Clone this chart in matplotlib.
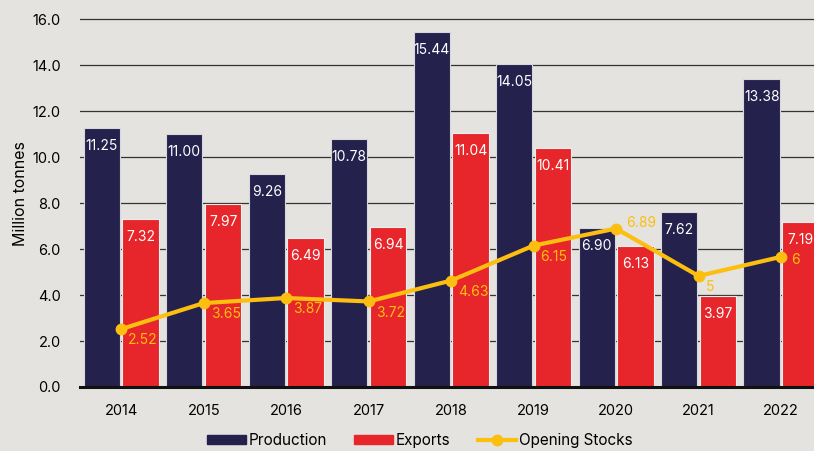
import numpy as np
import matplotlib.pyplot as plt

years = ["2014", "2015", "2016", "2017", "2018", "2019", "2020", "2021", "2022"]
production = [11.25, 11.00, 9.26, 10.78, 15.44, 14.05, 6.90, 7.62, 13.38]
exports = [7.32, 7.97, 6.49, 6.94, 11.04, 10.41, 6.13, 3.97, 7.19]
stocks = [2.52, 3.65, 3.87, 3.72, 4.63, 6.15, 6.89, 4.83, 5.66]
stock_labels = ["2.52", "3.65", "3.87", "3.72", "4.63", "6.15", "6.89", "5", "6"]

NAVY = "#24214d"
RED = "#e6262b"
YELLOW = "#fcbf0f"
BG = "#e4e3df"

plt.rcParams['font.family'] = ['Inter', 'DejaVu Sans']

fig = plt.figure(figsize=(8.14, 4.51), dpi=100, facecolor=BG)
ax = fig.add_axes([80 / 814, 64 / 451, 734 / 814, 387 / 451])
ax.set_facecolor(BG)

x = np.arange(len(years))
w = 0.44
ax.bar(x - 0.235, production, w, color=NAVY, edgecolor="#d8d7dc", linewidth=0.8, zorder=2)
ax.bar(x + 0.235, exports, w, color=RED, edgecolor="#eeeeee", linewidth=0.8, zorder=2)

for xi, v in zip(x, production):
    ax.annotate(f"{v:.2f}", (xi - 0.235, v), xytext=(0, -13), textcoords="offset points",
                ha="center", va="center", color="white", fontsize=10, zorder=4)
for xi, v in zip(x, exports):
    ax.annotate(f"{v:.2f}", (xi + 0.235, v), xytext=(0, -13), textcoords="offset points",
                ha="center", va="center", color="white", fontsize=10, zorder=4)

ax.plot(x, stocks, color=YELLOW, lw=3, marker="o", ms=7.5, zorder=5)
for i, (xi, v, lab) in enumerate(zip(x, stocks, stock_labels)):
    dx, dy = 5, -8
    if i == 6:
        dx, dy = 7, 4
    elif i == 8:
        dx, dy = 7, -2
    ax.annotate(lab, (xi, v), xytext=(dx, dy), textcoords="offset points",
                ha="left", va="center", color=YELLOW, fontsize=10, zorder=6)

ax.set_xlim(-0.5, 8.4)
ax.set_ylim(0, 16.83)
ax.set_yticks(np.arange(0, 16.1, 2))
ax.set_yticklabels([f"{t:.1f}" for t in np.arange(0, 16.1, 2)], fontsize=10.5)
ax.set_xticks(x)
ax.set_xticklabels(years, fontsize=10.5)
ax.tick_params(axis="x", length=0, pad=12)
ax.tick_params(axis="y", length=0, pad=14)
ax.grid(axis="y", color="#333333", lw=0.9, zorder=1)
for s in ["top", "right", "left"]:
    ax.spines[s].set_visible(False)
ax.spines["bottom"].set_linewidth(2.2)
ax.spines["bottom"].set_color("#111111")
ax.spines["bottom"].set_zorder(3)
ax.set_ylabel("Million tonnes", fontsize=11.5, labelpad=3)

h1 = plt.Rectangle((0, 0), 1, 1, color=NAVY)
h2 = plt.Rectangle((0, 0), 1, 1, color=RED)
h3 = plt.Line2D([], [], color=YELLOW, lw=3, marker="o", ms=7.5)
fig.legend([h1, h2, h3], ["Production", "Exports", "Opening Stocks"], loc="center",
           bbox_to_anchor=(0.516, 0.024), ncol=3, frameon=False, fontsize=11,
           handlelength=2.5, handletextpad=0.2, columnspacing=1.8, handleheight=0.55)

fig.savefig("out.png", dpi=100, facecolor=BG)
